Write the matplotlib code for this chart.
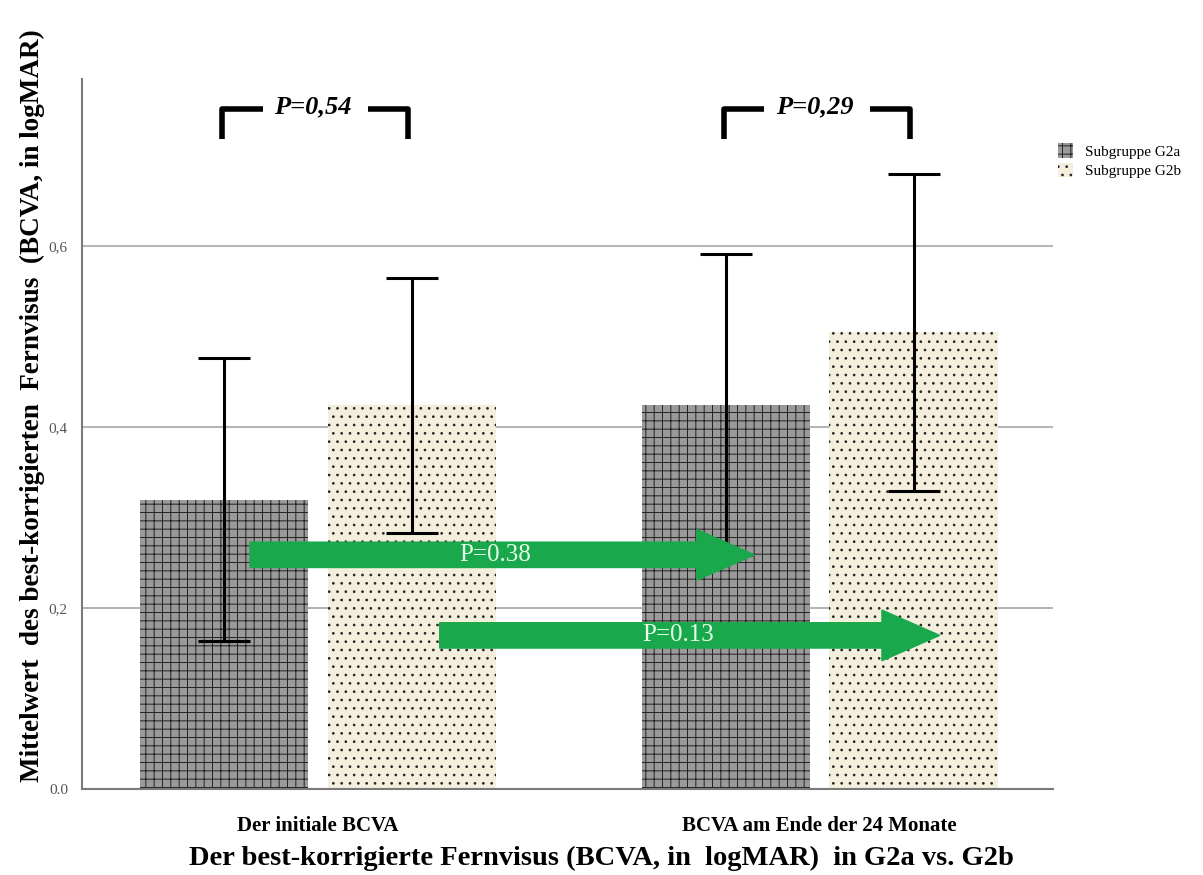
import matplotlib
matplotlib.use("Agg")
import matplotlib.pyplot as plt

plt.rcParams['font.family'] = ['Liberation Serif', 'DejaVu Serif']
plt.rcParams['hatch.linewidth'] = 0.7

# data
categories = ["Der initiale BCVA", "BCVA am Ende der 24 Monate"]
groups = ["Subgruppe G2a", "Subgruppe G2b"]
g2a_mean = [0.320, 0.425]
g2b_mean = [0.424, 0.505]
g2a_err = [0.156, 0.166]
g2b_err = [0.141, 0.175]
yticks = [0.0, 0.2, 0.4, 0.6]
ytick_labels = ["0.0", "0,2", "0,4", "0,6"]
bracket_p = ["P=0,54", "P=0,29"]
arrow_p = ["P=0.38", "P=0.13"]

fig = plt.figure(figsize=(12.03, 8.75), dpi=100)
ax = fig.add_axes([0.068, 0.098, 0.807, 0.812])

x = [0, 1]
off = 0.187
w = 0.335
xa = [v - off for v in x]
xb = [v + off for v in x]

ax.bar(xa, g2a_mean, w, color='#9a9a9a', edgecolor='#222222', hatch='++', linewidth=0,
       label=groups[0], zorder=2)
ax.bar(xb, g2b_mean, w, color='#f4eedd', edgecolor='#222222', hatch='..', linewidth=0,
       label=groups[1], zorder=2)
ax.errorbar(xa, g2a_mean, yerr=g2a_err, fmt='none', ecolor='black', elinewidth=2.2,
            capsize=19, capthick=2.2, zorder=3)
ax.errorbar(xb, g2b_mean, yerr=g2b_err, fmt='none', ecolor='black', elinewidth=2.2,
            capsize=19, capthick=2.2, zorder=3)

# significance brackets
for xc, p in zip(x, bracket_p):
    l, r = xc - 0.19, xc + 0.18
    top, bot = 0.752, 0.718
    ax.plot([l, l, l + 0.08], [bot, top, top], color='black', lw=4, solid_capstyle='butt', zorder=4)
    ax.plot([r - 0.08, r, r], [top, top, bot], color='black', lw=4, solid_capstyle='butt', zorder=4)
    ax.text(xc - 0.01, top + 0.002, p, ha='center', va='center', fontsize=19, fontweight='bold',
            fontstyle='italic', zorder=4)

# green arrows
arrows = [(-0.135, 0.870, 0.259, arrow_p[0], 0.353), (0.243, 1.239, 0.170, arrow_p[1], 0.717)]
for x0, x1, y, p, tx in arrows:
    ax.arrow(x0, y, x1 - x0, 0, width=0.028, head_width=0.056, head_length=0.115,
             length_includes_head=True, color='#19a84c', zorder=5)
    ax.text(tx, y, p, ha='center', va='center', fontsize=18, color='#e6ffe6', zorder=6)

ax.set_xlim(-0.470, 1.464)
ax.set_ylim(0, 0.785)
ax.set_yticks(yticks)
ax.set_yticklabels(ytick_labels, fontsize=11, color='#555555')
ax.set_xticks(x)
ax.set_xticklabels(categories, fontsize=15, fontweight='bold')
ax.tick_params(length=0, pad=10)
ax.tick_params(axis='x', pad=19)
ax.grid(axis='y', color='#b5b5b5', lw=1.5, zorder=0)
ax.set_axisbelow(True)
for s in ['top', 'right']:
    ax.spines[s].set_visible(False)
for s in ['left', 'bottom']:
    ax.spines[s].set_color('#7a7a7a')
    ax.spines[s].set_linewidth(1.5)

ax.set_ylabel("Mittelwert  des best-korrigierten  Fernvisus  (BCVA, in logMAR)",
              fontsize=19.5, fontweight='bold')
ax.yaxis.set_label_coords(-0.038, 0.54)
ax.set_xlabel("Der best-korrigierte Fernvisus (BCVA, in  logMAR)  in G2a vs. G2b",
              fontsize=20.5, fontweight='bold', va='center')
ax.xaxis.set_label_coords(0.535, -0.097)

fig.legend(loc='upper left', bbox_to_anchor=(0.868, 0.852), frameon=False, fontsize=11,
           handlelength=1.0, handleheight=1.1, handletextpad=0.8, labelspacing=0.25)

fig.savefig("out.png", dpi=100)
